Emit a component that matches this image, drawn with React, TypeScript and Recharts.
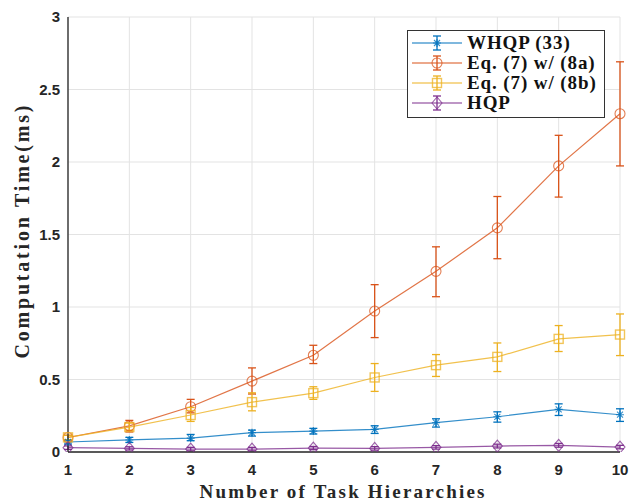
import React from 'react';
import { LineChart, Line, XAxis, YAxis, CartesianGrid, ErrorBar } from 'recharts';

const hierarchies = [1, 2, 3, 4, 5, 6, 7, 8, 9, 10];

const whqp = [0.069, 0.083, 0.096, 0.133, 0.144, 0.156, 0.202, 0.243, 0.294, 0.257];
const whqpLo = [0.055, 0.066, 0.078, 0.11, 0.124, 0.128, 0.172, 0.206, 0.252, 0.211];
const whqpHi = [0.083, 0.101, 0.121, 0.151, 0.163, 0.181, 0.229, 0.277, 0.332, 0.298];

const eq8a = [0.1, 0.18, 0.312, 0.489, 0.667, 0.972, 1.246, 1.546, 1.973, 2.333];
const eq8aLo = [0.085, 0.138, 0.27, 0.4, 0.61, 0.789, 1.071, 1.333, 1.758, 1.973];
const eq8aHi = [0.115, 0.218, 0.363, 0.58, 0.736, 1.154, 1.415, 1.762, 2.184, 2.691];

const eq8b = [0.101, 0.172, 0.255, 0.344, 0.406, 0.514, 0.599, 0.656, 0.78, 0.81];
const eq8bLo = [0.085, 0.15, 0.211, 0.284, 0.363, 0.418, 0.521, 0.555, 0.693, 0.665];
const eq8bHi = [0.115, 0.2, 0.307, 0.408, 0.45, 0.61, 0.672, 0.752, 0.872, 0.952];

const hqp = [0.03, 0.025, 0.02, 0.02, 0.027, 0.025, 0.032, 0.041, 0.046, 0.034];
const hqpLo = [0.018, 0.014, 0.008, 0.008, 0.016, 0.013, 0.02, 0.028, 0.033, 0.022];
const hqpHi = [0.042, 0.036, 0.032, 0.032, 0.038, 0.037, 0.044, 0.054, 0.059, 0.046];

const xTicks = [1, 2, 3, 4, 5, 6, 7, 8, 9, 10];
const yTicks = [0, 0.5, 1, 1.5, 2, 2.5, 3];
const yTickLabels = ['0', '0.5', '1', '1.5', '2', '2.5', '3'];

const seriesNames = ['WHQP (33)', 'Eq. (7) w/ (8a)', 'Eq. (7) w/ (8b)', 'HQP'];
const colors = ['#0072BD', '#D95319', '#EDB120', '#7E2F8E'];
const markers = ['asterisk', 'circle', 'square', 'diamond'];

const data = hierarchies.map((x, i) => ({
  x,
  whqp: whqp[i],
  whqpErr: [whqp[i] - whqpLo[i], whqpHi[i] - whqp[i]],
  eq8a: eq8a[i],
  eq8aErr: [eq8a[i] - eq8aLo[i], eq8aHi[i] - eq8a[i]],
  eq8b: eq8b[i],
  eq8bErr: [eq8b[i] - eq8bLo[i], eq8bHi[i] - eq8b[i]],
  hqp: hqp[i],
  hqpErr: [hqp[i] - hqpLo[i], hqpHi[i] - hqp[i]],
}));

function MarkerShape({ cx, cy, kind, color }: { cx: number; cy: number; kind: string; color: string }) {
  if (cx == null || cy == null) return null;
  const sw = 1.1;
  if (kind === 'circle') {
    return <circle cx={cx} cy={cy} r={5} fill="none" stroke={color} strokeWidth={sw} strokeOpacity={0.75} />;
  }
  if (kind === 'square') {
    return <rect x={cx - 4.5} y={cy - 4.5} width={9} height={9} fill="none" stroke={color} strokeWidth={sw + 0.3} strokeOpacity={0.75} />;
  }
  if (kind === 'diamond') {
    return <path d={`M${cx},${cy - 6} L${cx + 5},${cy} L${cx},${cy + 6} L${cx - 5},${cy} Z`} fill="none" stroke={color} strokeWidth={sw} strokeOpacity={0.75} />;
  }
  const s = 4;
  const d = 3;
  return (
    <path
      d={`M${cx - s},${cy} L${cx + s},${cy} M${cx},${cy - s} L${cx},${cy + s} M${cx - d},${cy - d} L${cx + d},${cy + d} M${cx - d},${cy + d} L${cx + d},${cy - d}`}
      stroke={color}
      strokeWidth={sw}
      strokeOpacity={0.8}
    />
  );
}

const makeDot = (kind: string, color: string) => (props: any) => (
  <MarkerShape key={`${kind}-${props.index}`} cx={props.cx} cy={props.cy} kind={kind} color={color} />
);

function LegendBox() {
  return (
    <div
      style={{
        position: 'absolute',
        left: 407,
        top: 30,
        width: 198,
        height: 88,
        border: '1.3px solid #333',
        background: '#fff',
        boxSizing: 'border-box',
        paddingTop: 2,
      }}
    >
      {seriesNames.map((name, i) => (
        <div key={name} style={{ height: 20, display: 'flex', alignItems: 'center' }}>
          <svg width={60} height={20} style={{ flex: 'none' }}>
            <line x1={4} y1={10} x2={54} y2={10} stroke={colors[i]} strokeWidth={1.2} />
            <line x1={29} y1={3} x2={29} y2={17} stroke={colors[i]} strokeWidth={1.3} />
            <line x1={25} y1={3} x2={33} y2={3} stroke={colors[i]} strokeWidth={1.3} />
            <line x1={25} y1={17} x2={33} y2={17} stroke={colors[i]} strokeWidth={1.3} />
            <MarkerShape cx={29} cy={10} kind={markers[i]} color={colors[i]} />
          </svg>
          <span
            style={{
              fontFamily: '"Liberation Serif", serif',
              fontWeight: 'bold',
              fontSize: 19,
              letterSpacing: 0.9,
              color: '#111',
              whiteSpace: 'nowrap',
              marginLeft: -1,
              lineHeight: '20px',
            }}
          >
            {name}
          </span>
        </div>
      ))}
    </div>
  );
}

const tickStyle = { fontFamily: '"Liberation Sans", Arial, sans-serif', fontWeight: 'bold', fontSize: 15, fill: '#262626' };

export default function App() {
  return (
    <div style={{ width: 629, height: 501, position: 'fixed', left: 0, top: 0, background: '#fff' }}>
      <LineChart width={629} height={501} data={data} margin={{ top: 17, right: 9, bottom: 19, left: 28 }}>
        <CartesianGrid stroke="#e3e3e3" strokeWidth={1} />
        <XAxis
          dataKey="x"
          type="number"
          domain={[1, 10]}
          ticks={xTicks}
          height={30}
          tickSize={0}
          tickMargin={12}
          tick={tickStyle}
          axisLine={{ stroke: '#262626', strokeWidth: 1.3 }}
          tickLine={false}
          interval={0}
          label={{
            content: () => (
              <text
                x={342}
                y={498}
                textAnchor="middle"
                fontFamily='"Liberation Serif", serif'
                fontWeight="bold"
                fontSize={19}
                textLength={285}
                lengthAdjust="spacing"
                fill="#262626"
              >
                Number of Task Hierarchies
              </text>
            ),
          }}
        />
        <YAxis
          type="number"
          domain={[0, 3]}
          ticks={yTicks}
          width={40}
          tickSize={0}
          tickMargin={8}
          tick={tickStyle}
          tickFormatter={(v: number) => yTickLabels[yTicks.indexOf(v)] ?? String(v)}
          axisLine={{ stroke: '#262626', strokeWidth: 1.3 }}
          tickLine={false}
          interval={0}
          allowDataOverflow
          label={{
            content: () => (
              <text
                x={29}
                y={232}
                textAnchor="middle"
                transform="rotate(-90 29 232)"
                fontFamily='"Liberation Serif", serif'
                fontWeight="bold"
                fontSize={20}
                textLength={253}
                lengthAdjust="spacing"
                fill="#262626"
              >
                Computation Time(ms)
              </text>
            ),
          }}
        />
        <Line dataKey="whqp" stroke={colors[0]} strokeWidth={1.2} strokeOpacity={0.8} dot={makeDot(markers[0], colors[0])} isAnimationActive={false} activeDot={false}>
          <ErrorBar dataKey="whqpErr" direction="y" width={4} stroke={colors[0]} strokeWidth={1.3} />
        </Line>
        <Line dataKey="eq8a" stroke={colors[1]} strokeWidth={1.2} strokeOpacity={0.8} dot={makeDot(markers[1], colors[1])} isAnimationActive={false} activeDot={false}>
          <ErrorBar dataKey="eq8aErr" direction="y" width={4} stroke={colors[1]} strokeWidth={1.3} />
        </Line>
        <Line dataKey="eq8b" stroke={colors[2]} strokeWidth={1.2} strokeOpacity={0.8} dot={makeDot(markers[2], colors[2])} isAnimationActive={false} activeDot={false}>
          <ErrorBar dataKey="eq8bErr" direction="y" width={4} stroke={colors[2]} strokeWidth={1.3} />
        </Line>
        <Line dataKey="hqp" stroke={colors[3]} strokeWidth={1.2} strokeOpacity={0.8} dot={makeDot(markers[3], colors[3])} isAnimationActive={false} activeDot={false}>
          <ErrorBar dataKey="hqpErr" direction="y" width={4} stroke={colors[3]} strokeWidth={1.3} />
        </Line>
      </LineChart>
      <LegendBox />
    </div>
  );
}
